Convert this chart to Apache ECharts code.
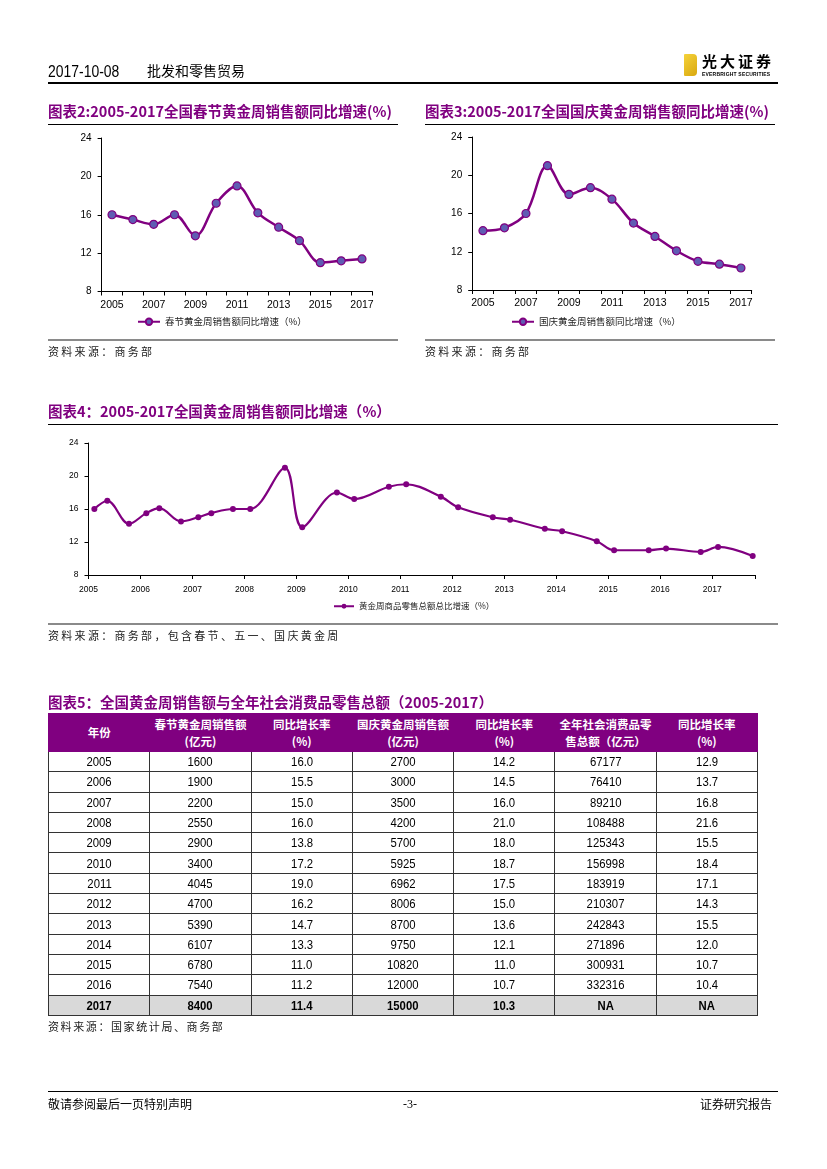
<!DOCTYPE html>
<html>
<head>
<meta charset="utf-8">
<script src="https://cdn.jsdelivr.net/npm/echarts@6/dist/echarts.min.js"></script>
<style>
  html,body{margin:0;padding:0;background:#fff;}
  #page{position:relative;width:827px;height:1169px;overflow:hidden;font-family:"Noto Sans CJK SC",sans-serif;color:#000;}
  #chart{position:absolute;left:0;top:0;width:827px;height:1169px;}
  .abs{position:absolute;white-space:nowrap;}
  .title{font-family:"Liberation Sans Narrow","Noto Sans CJK SC",sans-serif;font-weight:bold;color:#800080;font-size:14.5px;line-height:16px;}
  .title .cn{font-family:"Noto Sans CJK SC",sans-serif;font-weight:bold;}
  .rule{position:absolute;background:#000;height:1px;}
  .grule{position:absolute;background:#8a8a8a;height:2px;}
  .src{font-family:"Noto Sans CJK SC",sans-serif;font-size:11px;letter-spacing:2.3px;line-height:12px;color:#222;}
  table{position:absolute;left:48px;top:713px;width:710px;border-collapse:collapse;table-layout:fixed;}
  th{background:#800080;color:#fff;font-family:"Noto Sans CJK SC",sans-serif;font-weight:bold;font-size:11.5px;line-height:17px;height:37px;padding:0;border:1px solid #800080;}
  td{font-family:"Liberation Sans",Arial,sans-serif;font-size:13.5px;height:19.3px;padding:0;text-align:center;border:1px solid #333;line-height:19px;}
  td span{display:inline-block;transform:scaleX(0.84);}
  tr.last td{background:#d9d9d9;font-weight:bold;}
  .narrow{display:inline-block;transform:scaleX(0.82);transform-origin:left bottom;}
</style>
</head>
<body>
<div id="page">
  <div id="chart"></div>

  <!-- header -->
  <div class="abs" style="left:48px;top:60px;line-height:20px;"><span class="narrow" style="font-family:'Liberation Sans',sans-serif;font-size:17px;">2017-10-08</span></div>
  <div class="abs" style="left:147px;top:60px;line-height:20px;font-family:'Noto Sans CJK SC';font-size:14px;">批发和零售贸易</div>
  <div class="abs" style="left:684px;top:54px;width:13px;height:22px;background:linear-gradient(135deg,#f5d23a,#d9a80f);border-radius:1px 4px 4px 1px;"></div>
  <div class="abs" style="left:702px;top:52px;font-family:'Noto Sans CJK SC';font-weight:bold;font-size:15px;letter-spacing:3px;line-height:18px;">光大证券</div>
  <div class="abs" style="left:702px;top:71px;font-family:'Liberation Sans',sans-serif;font-weight:bold;font-size:5px;line-height:6px;letter-spacing:0.2px;">EVERBRIGHT SECURITIES</div>
  <div class="rule" style="left:48px;top:82px;width:730px;height:1.5px;"></div>

  <!-- titles chart 2 & 3 -->
  <div class="abs title" style="left:48px;top:103px;"><span class="cn">图表</span>2:2005-2017<span class="cn">全国春节黄金周销售额同比增速</span>(%)</div>
  <div class="rule" style="left:48px;top:124px;width:350px;"></div>
  <div class="abs title" style="left:425px;top:103px;"><span class="cn">图表</span>3:2005-2017<span class="cn">全国国庆黄金周销售额同比增速</span>(%)</div>
  <div class="rule" style="left:425px;top:124px;width:350px;"></div>

  <div class="grule" style="left:48px;top:339px;width:350px;"></div>
  <div class="abs src" style="left:48px;top:345px;">资料来源：商务部</div>
  <div class="grule" style="left:425px;top:339px;width:350px;"></div>
  <div class="abs src" style="left:425px;top:345px;">资料来源：商务部</div>

  <!-- chart 4 title -->
  <div class="abs title" style="left:48px;top:403px;"><span class="cn">图表</span>4<span class="cn">：</span>2005-2017<span class="cn">全国黄金周销售额同比增速（</span>%<span class="cn">）</span></div>
  <div class="rule" style="left:48px;top:424px;width:730px;"></div>
  <div class="grule" style="left:48px;top:623px;width:730px;"></div>
  <div class="abs src" style="left:48px;top:629px;">资料来源：商务部，包含春节、五一、国庆黄金周</div>

  <!-- table -->
  <div class="abs title" style="left:48px;top:694px;"><span class="cn">图表</span>5<span class="cn">：全国黄金周销售额与全年社会消费品零售总额（</span>2005-2017<span class="cn">）</span></div>
  <table id="tbl"></table>
  <div class="abs src" style="left:48px;top:1020px;letter-spacing:1.6px;">资料来源：国家统计局、商务部</div>

  <!-- footer -->
  <div class="rule" style="left:48px;top:1091px;width:730px;"></div>
  <div class="abs" style="left:48px;top:1097px;font-size:12px;line-height:14px;">敬请参阅最后一页特别声明</div>
  <div class="abs" style="left:403px;top:1097px;font-family:'Liberation Serif',serif;font-size:12px;line-height:14px;">-3-</div>
  <div class="abs" style="left:700px;top:1097px;font-size:12px;line-height:14px;">证券研究报告</div>
</div>

<script>
// ---------------- data ----------------
const years = ['2005','2006','2007','2008','2009','2010','2011','2012','2013','2014','2015','2016','2017'];
const springSales = [1600,1900,2200,2550,2900,3400,4045,4700,5390,6107,6780,7540,8400];
const springYoY = [16.0,15.5,15.0,16.0,13.8,17.2,19.0,16.2,14.7,13.3,11.0,11.2,11.4];
const nationalSales = [2700,3000,3500,4200,5700,5925,6962,8006,8700,9750,10820,12000,15000];
const nationalYoY = [14.2,14.5,16.0,21.0,18.0,18.7,17.5,15.0,13.6,12.1,11.0,10.7,10.3];
const retailTotal = ['67177','76410','89210','108488','125343','156998','183919','210307','242843','271896','300931','332316','NA'];
const retailYoY = ['12.9','13.7','16.8','21.6','15.5','18.4','17.1','14.3','15.5','12.0','10.7','10.4','NA'];

// combined golden-week series (chart 4): year-month of each golden week
const weekDates = ['2005-02','2005-05','2005-10','2006-02','2006-05','2006-10','2007-02','2007-05','2007-10',
  '2008-02','2008-10','2009-02','2009-10','2010-02','2010-10','2011-02','2011-10','2012-02','2012-10',
  '2013-02','2013-10','2014-02','2014-10','2015-02','2015-10','2016-02','2016-10','2017-02','2017-10'];
const weekYoY = [16.0,17.0,14.2,15.5,16.1,14.5,15.0,15.5,16.0,
  16.0,21.0,13.8,18.0,17.2,18.7,19.0,17.5,16.2,15.0,
  14.7,13.6,13.3,12.1,11.0,11.0,11.2,10.8,11.4,10.3];

const headerLabels = [['年份'],['春节黄金周销售额','(亿元)'],['同比增长率','(%)'],['国庆黄金周销售额','(亿元)'],['同比增长率','(%)'],['全年社会消费品零','售总额（亿元）'],['同比增长率','(%)']];
const seriesName1 = '春节黄金周销售额同比增速（%）';
const seriesName2 = '国庆黄金周销售额同比增速（%）';
const seriesName3 = '黄金周商品零售总额总比增速（%）';

// ---------------- table ----------------
(function(){
  const t = document.getElementById('tbl');
  let h = '<tr>' + headerLabels.map(l => '<th>' + l.join('<br>') + '</th>').join('') + '</tr>';
  years.forEach((y,i) => {
    const cells = [y, springSales[i], springYoY[i].toFixed(1), nationalSales[i], nationalYoY[i].toFixed(1), retailTotal[i], retailYoY[i]];
    h += '<tr' + (i === years.length-1 ? ' class="last"' : '') + '>' + cells.map(c => '<td><span>' + c + '</span></td>').join('') + '</tr>';
  });
  t.innerHTML = h;
})();

// ---------------- charts ----------------
const weekX = weekDates.map(d => { const p = d.split('-'); return +p[0] + (+p[1] - 0.65) / 12; });
const weekData = weekX.map((x,i) => [x, weekYoY[i]]);

const PURPLE = '#800080';
const axisLine = {show:true, lineStyle:{color:'#000', width:1}};
const axisTickOut = {show:true, inside:false, length:4, lineStyle:{color:'#000'}};
const labelFont = {color:'#000', fontFamily:'Liberation Sans, Arial, sans-serif'};

function catX(gi){
  return {type:'category', gridIndex:gi, data:years, boundaryGap:true,
    axisLine:axisLine, axisTick:Object.assign({interval:0}, axisTickOut),
    axisLabel:Object.assign({interval:1, fontSize:10.5, margin:8}, labelFont), splitLine:{show:false}};
}
function valY(gi, fs, margin){
  return {type:'value', gridIndex:gi, min:8, max:24, interval:4,
    axisLine:axisLine, axisTick:axisTickOut,
    axisLabel:Object.assign({fontSize:fs, margin:margin}, labelFont), splitLine:{show:false}};
}
const legendText = {color:'#222', fontFamily:'Noto Sans CJK SC', fontSize:9.5};

const chart = echarts.init(document.getElementById('chart'), null, {renderer:'canvas'});
chart.setOption({
  animation:false,
  grid:[
    {left:101.6, top:138, width:270.8, height:153.5},
    {left:472.2, top:137, width:279.5, height:153},
    {left:88.5, top:443, width:667, height:132}
  ],
  xAxis:[
    catX(0), catX(1),
    {type:'value', gridIndex:2, min:2005, max:2017 + 10/12, interval:1,
      axisLine:axisLine, axisTick:axisTickOut,
      axisLabel:Object.assign({fontSize:8.5, margin:10,
        formatter: v => Math.abs(v - Math.round(v)) < 1e-6 ? String(Math.round(v)) : ''}, labelFont),
      splitLine:{show:false}}
  ],
  yAxis:[valY(0, 10, 10), valY(1, 10, 10), valY(2, 8.5, 10)],
  legend:[
    {data:[seriesName1], left:137, top:317, itemWidth:22, itemHeight:8, itemGap:4, textStyle:legendText, padding:0},
    {data:[seriesName2], left:511, top:317, itemWidth:22, itemHeight:8, itemGap:4, textStyle:legendText, padding:0},
    {data:[seriesName3], left:333, top:602, itemWidth:20, itemHeight:6, itemGap:4, textStyle:Object.assign({}, legendText, {fontSize:8.5}), padding:0}
  ],
  series:[
    {name:seriesName1, type:'line', xAxisIndex:0, yAxisIndex:0, data:springYoY, smooth:0.35,
      symbol:'circle', symbolSize:8, lineStyle:{color:PURPLE, width:2.5},
      itemStyle:{color:'#5f5cb3', borderColor:PURPLE, borderWidth:1.2}},
    {name:seriesName2, type:'line', xAxisIndex:1, yAxisIndex:1, data:nationalYoY, smooth:0.35,
      symbol:'circle', symbolSize:8, lineStyle:{color:PURPLE, width:2.5},
      itemStyle:{color:'#5f5cb3', borderColor:PURPLE, borderWidth:1.2}},
    {name:seriesName3, type:'line', xAxisIndex:2, yAxisIndex:2, data:weekData, smooth:0.35,
      symbol:'circle', symbolSize:6, lineStyle:{color:PURPLE, width:2.2},
      itemStyle:{color:PURPLE}}
  ]
});
</script>
</body>
</html>
